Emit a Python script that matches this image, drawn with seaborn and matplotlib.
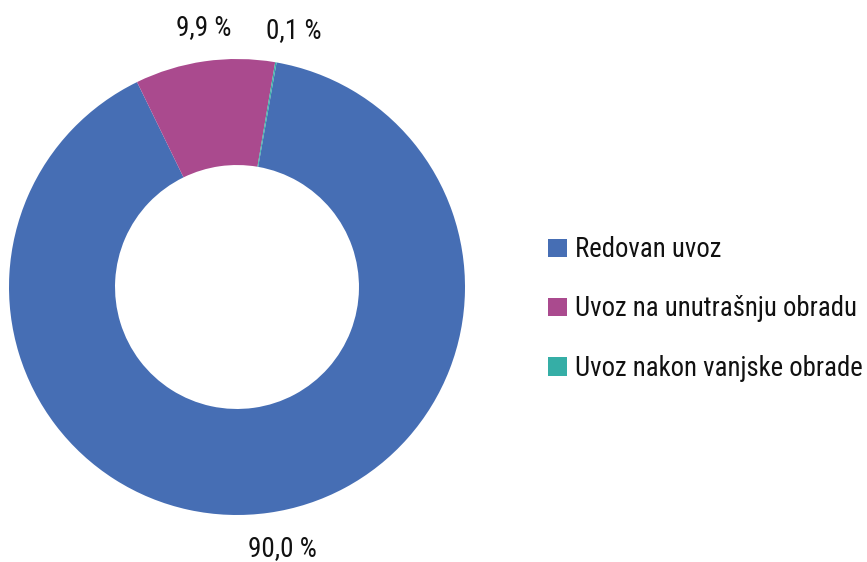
"""Donut chart: structure of imports by procedure type."""

import matplotlib
matplotlib.use("Agg")
import matplotlib.pyplot as plt
import seaborn as sns

categories = ["Redovan uvoz", "Uvoz na unutrašnju obradu", "Uvoz nakon vanjske obrade"]
shares = [90.0, 9.9, 0.1]
share_labels = ["90,0 %", "9,9 %", "0,1 %"]
colors = ["#466EB4", "#AA4A8E", "#35AEA6"]

sns.set_theme(style="white")
plt.rcParams["font.family"] = ["Roboto Condensed", "Open Sans Condensed",
                               "DejaVu Sans Condensed", "DejaVu Sans"]
plt.rcParams["font.stretch"] = "condensed"

fig = plt.figure(figsize=(8.67, 5.62), dpi=100)
W, H = 867, 562
cx, cy, r = 237, 287, 228
ax = fig.add_axes([(cx - r) / W, (H - cy - r) / H, 2 * r / W, 2 * r / H])

wedges, texts = ax.pie(
    shares,
    colors=colors,
    labels=share_labels,
    labeldistance=1.16,
    startangle=80,
    counterclock=False,
    wedgeprops=dict(width=0.465, edgecolor="none"),
    textprops=dict(fontsize=19.5, color="#111111", ha="center", va="center"),
)
# nudge the outside labels where Excel had placed them
for t, dx, dy in zip(texts, [0.04, 0.02, 0.05], [0.0, -0.01, -0.02]):
    x, y = t.get_position()
    t.set_position((x + dx, y + dy))
    t.set_horizontalalignment("center")
ax.set_xlim(-1, 1)
ax.set_ylim(-1, 1)
ax.set_aspect("equal")
ax.axis("off")

leg = fig.legend(
    wedges, categories,
    loc="center left",
    bbox_to_anchor=(548 / W, 1 - 309 / H),
    frameon=False,
    fontsize=19.3,
    handlelength=0.7,
    handleheight=0.7,
    handletextpad=0.32,
    labelspacing=1.2,
    borderaxespad=0,
    borderpad=0,
)
for txt in leg.get_texts():
    txt.set_color("#111111")

fig.savefig("out.png", dpi=100)
